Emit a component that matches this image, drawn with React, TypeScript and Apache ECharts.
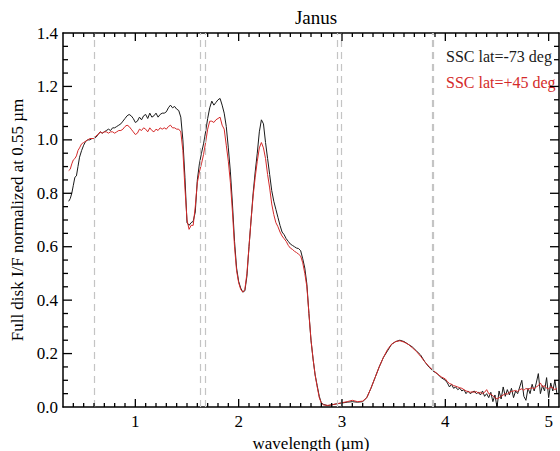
import React, { useEffect, useRef } from "react";
import * as echarts from "echarts";

const FONT = "Liberation Serif";

const seriesNames = ["SSC lat=-73 deg", "SSC lat=+45 deg"];
const seriesColors = ["#1a1a1a", "#d42a2a"];

const xTickLabels = ["1", "2", "3", "4", "5"];
const xMajorTicks = [1, 2, 3, 4, 5];
const yMajorTicks = [0.2, 0.4, 0.6, 0.8, 1.0, 1.2];
const markerWavelengths = [0.6, 1.63, 1.68, 2.95, 2.99, 3.87, 3.885];

// [wavelength (µm), normalized I/F]
const blackSpectrum: number[][] = [
  [0.355, 0.77], [0.37, 0.78], [0.385, 0.8], [0.4, 0.83], [0.415, 0.86], [0.43, 0.865], [0.445, 0.9], [0.46, 0.935],
  [0.48, 0.96], [0.5, 0.98], [0.52, 0.995], [0.54, 1.0], [0.56, 1.0], [0.58, 1.005], [0.6, 1.005], [0.62, 1.01],
  [0.64, 1.02], [0.66, 1.03], [0.68, 1.025], [0.7, 1.03], [0.72, 1.035], [0.74, 1.04], [0.76, 1.035], [0.78, 1.045],
  [0.8, 1.045], [0.82, 1.05], [0.84, 1.055], [0.86, 1.06], [0.88, 1.07], [0.9, 1.08], [0.92, 1.09], [0.94, 1.095],
  [0.96, 1.09], [0.98, 1.08], [1.0, 1.065], [1.02, 1.07], [1.04, 1.085], [1.06, 1.075], [1.08, 1.09], [1.1, 1.095],
  [1.12, 1.08], [1.14, 1.1], [1.16, 1.085], [1.18, 1.09], [1.2, 1.1], [1.22, 1.085], [1.24, 1.095], [1.26, 1.1],
  [1.28, 1.1], [1.3, 1.105], [1.32, 1.12], [1.34, 1.13], [1.36, 1.12], [1.38, 1.125], [1.4, 1.115], [1.42, 1.11],
  [1.44, 1.085], [1.46, 1.0], [1.48, 0.86], [1.5, 0.69], [1.52, 0.68], [1.54, 0.69], [1.56, 0.695], [1.58, 0.73],
  [1.6, 0.85], [1.62, 0.91], [1.64, 0.95], [1.66, 0.985], [1.68, 1.03], [1.7, 1.08], [1.72, 1.12], [1.74, 1.145],
  [1.76, 1.13], [1.78, 1.14], [1.8, 1.15], [1.82, 1.155], [1.84, 1.13], [1.86, 1.1], [1.88, 1.05], [1.9, 0.97],
  [1.92, 0.88], [1.94, 0.76], [1.96, 0.62], [1.98, 0.52], [2.0, 0.47], [2.02, 0.445], [2.04, 0.43], [2.06, 0.435],
  [2.08, 0.49], [2.1, 0.6], [2.12, 0.7], [2.14, 0.8], [2.16, 0.88], [2.18, 0.95], [2.2, 1.03], [2.22, 1.075],
  [2.24, 1.06], [2.26, 0.99], [2.28, 0.93], [2.3, 0.87], [2.32, 0.81], [2.34, 0.77], [2.36, 0.74], [2.38, 0.71],
  [2.4, 0.68], [2.42, 0.655], [2.44, 0.645], [2.46, 0.63], [2.48, 0.62], [2.5, 0.61], [2.52, 0.605], [2.54, 0.6],
  [2.56, 0.595], [2.58, 0.593], [2.6, 0.585], [2.62, 0.555], [2.64, 0.52], [2.66, 0.46], [2.68, 0.35], [2.7, 0.25],
  [2.72, 0.18], [2.74, 0.12], [2.76, 0.08], [2.78, 0.04], [2.8, 0.015], [2.82, 0.01],
  [2.86, 0.005], [2.9, 0.008], [2.95, 0.012], [3.0, 0.015], [3.05, 0.018], [3.1, 0.02], [3.15, 0.018], [3.2, 0.02],
  [3.24, 0.035], [3.28, 0.07], [3.32, 0.11], [3.36, 0.15], [3.4, 0.185], [3.44, 0.21], [3.48, 0.235], [3.52, 0.245],
  [3.56, 0.25], [3.6, 0.245], [3.64, 0.235], [3.68, 0.225], [3.72, 0.21], [3.76, 0.195], [3.8, 0.17], [3.84, 0.15],
  [3.88, 0.135], [3.92, 0.125], [3.96, 0.11], [4.0, 0.1],
  [4.02, 0.09], [4.04, 0.075], [4.06, 0.085], [4.08, 0.07], [4.1, 0.075], [4.12, 0.065], [4.14, 0.07], [4.16, 0.06],
  [4.18, 0.065], [4.2, 0.05], [4.22, 0.06], [4.24, 0.05], [4.26, 0.055], [4.28, 0.06], [4.3, 0.05], [4.32, 0.055],
  [4.34, 0.045], [4.36, 0.06], [4.38, 0.04], [4.4, 0.05], [4.42, 0.035], [4.44, 0.055], [4.46, 0.02], [4.48, 0.045],
  [4.5, 0.0], [4.52, 0.06], [4.54, 0.03], [4.56, 0.075], [4.58, 0.04], [4.6, 0.065], [4.62, 0.045], [4.64, 0.07],
  [4.66, 0.035], [4.68, 0.06], [4.7, 0.05], [4.72, 0.075], [4.74, 0.1], [4.76, 0.04], [4.78, 0.025], [4.8, 0.07],
  [4.82, 0.05], [4.84, 0.085], [4.86, 0.06], [4.88, 0.09], [4.9, 0.125], [4.92, 0.05], [4.94, 0.08], [4.96, 0.06],
  [4.98, 0.11], [5.0, 0.035], [5.02, 0.09], [5.04, 0.06], [5.06, 0.1], [5.08, 0.05],
];

const redSpectrum: number[][] = [
  [0.355, 0.885], [0.37, 0.89], [0.385, 0.91], [0.4, 0.925], [0.415, 0.93], [0.43, 0.94], [0.445, 0.96], [0.46, 0.97],
  [0.48, 0.985], [0.5, 0.99], [0.52, 0.995], [0.54, 1.0], [0.56, 1.005], [0.58, 1.005], [0.6, 1.005], [0.62, 1.015],
  [0.64, 1.02], [0.66, 1.03], [0.68, 1.025], [0.7, 1.03], [0.72, 1.03], [0.74, 1.025], [0.76, 1.03], [0.78, 1.03],
  [0.8, 1.025], [0.82, 1.03], [0.84, 1.035], [0.86, 1.035], [0.88, 1.04], [0.9, 1.05], [0.92, 1.055], [0.94, 1.05],
  [0.96, 1.04], [0.98, 1.03], [1.0, 1.02], [1.02, 1.025], [1.04, 1.04], [1.06, 1.035], [1.08, 1.045], [1.1, 1.04],
  [1.12, 1.03], [1.14, 1.045], [1.16, 1.035], [1.18, 1.03], [1.2, 1.04], [1.22, 1.035], [1.24, 1.045], [1.26, 1.04],
  [1.28, 1.045], [1.3, 1.04], [1.32, 1.05], [1.34, 1.055], [1.36, 1.045], [1.38, 1.045], [1.4, 1.04], [1.42, 1.04],
  [1.44, 1.03], [1.46, 0.96], [1.48, 0.82], [1.5, 0.7], [1.52, 0.665], [1.54, 0.68], [1.56, 0.68], [1.58, 0.75],
  [1.6, 0.84], [1.62, 0.88], [1.64, 0.91], [1.66, 0.945], [1.68, 0.99], [1.7, 1.04], [1.72, 1.07], [1.74, 1.07],
  [1.76, 1.065], [1.78, 1.075], [1.8, 1.08], [1.82, 1.085], [1.84, 1.055], [1.86, 1.04], [1.88, 0.98], [1.9, 0.92],
  [1.92, 0.84], [1.94, 0.73], [1.96, 0.6], [1.98, 0.51], [2.0, 0.465], [2.02, 0.44], [2.04, 0.43], [2.06, 0.44],
  [2.08, 0.5], [2.1, 0.6], [2.12, 0.7], [2.14, 0.79], [2.16, 0.86], [2.18, 0.92], [2.2, 0.97], [2.22, 0.99],
  [2.24, 0.97], [2.26, 0.93], [2.28, 0.87], [2.3, 0.82], [2.32, 0.76], [2.34, 0.72], [2.36, 0.69], [2.38, 0.675],
  [2.4, 0.655], [2.42, 0.64], [2.44, 0.63], [2.46, 0.62], [2.48, 0.605], [2.5, 0.595], [2.52, 0.59], [2.54, 0.583],
  [2.56, 0.578], [2.58, 0.572], [2.6, 0.565], [2.62, 0.54], [2.64, 0.5], [2.66, 0.45], [2.68, 0.35], [2.7, 0.25],
  [2.72, 0.18], [2.74, 0.12], [2.76, 0.075], [2.78, 0.035], [2.8, 0.015], [2.82, 0.008],
  [2.86, 0.006], [2.9, 0.008], [2.95, 0.012], [3.0, 0.016], [3.05, 0.02], [3.1, 0.025], [3.15, 0.02], [3.2, 0.022],
  [3.24, 0.035], [3.28, 0.07], [3.32, 0.11], [3.36, 0.15], [3.4, 0.185], [3.44, 0.215], [3.48, 0.235], [3.52, 0.245],
  [3.56, 0.248], [3.6, 0.243], [3.64, 0.235], [3.68, 0.222], [3.72, 0.208], [3.76, 0.19], [3.8, 0.17], [3.84, 0.152],
  [3.88, 0.138], [3.92, 0.125], [3.96, 0.113], [4.0, 0.105],
  [4.02, 0.095], [4.04, 0.088], [4.06, 0.085], [4.08, 0.08], [4.1, 0.078], [4.12, 0.075], [4.14, 0.072], [4.16, 0.07],
  [4.18, 0.065], [4.2, 0.06], [4.22, 0.058], [4.24, 0.055], [4.26, 0.057], [4.28, 0.055], [4.3, 0.058], [4.32, 0.052],
  [4.34, 0.055], [4.36, 0.05], [4.38, 0.055], [4.4, 0.065], [4.42, 0.05], [4.44, 0.048], [4.46, 0.042], [4.48, 0.035],
  [4.5, 0.03], [4.52, 0.035], [4.54, 0.04], [4.56, 0.045], [4.58, 0.05], [4.6, 0.048], [4.62, 0.055], [4.64, 0.058],
  [4.66, 0.06], [4.68, 0.062], [4.7, 0.058], [4.72, 0.065], [4.74, 0.068], [4.76, 0.062], [4.78, 0.07], [4.8, 0.065],
  [4.82, 0.07], [4.84, 0.072], [4.86, 0.068], [4.88, 0.075], [4.9, 0.08], [4.92, 0.09], [4.94, 0.075], [4.96, 0.08],
  [4.98, 0.07], [5.0, 0.068], [5.02, 0.075], [5.04, 0.072], [5.06, 0.065], [5.08, 0.07],
];

const X_MIN = 0.3;
const X_MAX = 5.1;
const Y_MIN = 0;
const Y_MAX = 1.4;

// minor ticks every 0.1 µm on x and 0.05 on y (between the major ones)
const xMinorTicks: number[] = [];
for (let i = 4; i <= 50; i++) if (i % 10 !== 0) xMinorTicks.push(i / 10);
const yMinorTicks: number[] = [];
for (let i = 1; i < 28; i++) if (i % 4 !== 0) yMinorTicks.push(i / 20);

const GRID = { left: 63, right: 1, top: 33, bottom: 44 };
const TICK_W = 1.3;

export default function App() {
  const ref = useRef<HTMLDivElement>(null);

  useEffect(() => {
    if (!ref.current) return;
    const chart = echarts.init(ref.current, undefined, { renderer: "svg" });
    const axisLineStyle = { color: "#000", width: 1.5 };

    // inward tick marks, placed as thin rect symbols at the axis values
    const tickData: any[] = [];
    const addX = (v: number, len: number) => {
      tickData.push({ value: [v, Y_MIN], symbolSize: [TICK_W, len], symbolOffset: [0, -len / 2] });
      tickData.push({ value: [v, Y_MAX], symbolSize: [TICK_W, len], symbolOffset: [0, len / 2] });
    };
    const addY = (v: number, len: number) => {
      tickData.push({ value: [X_MIN, v], symbolSize: [len, TICK_W], symbolOffset: [len / 2, 0] });
      tickData.push({ value: [X_MAX, v], symbolSize: [len, TICK_W], symbolOffset: [-len / 2, 0] });
    };
    xMajorTicks.forEach((v) => addX(v, 8));
    xMinorTicks.forEach((v) => addX(v, 4));
    yMajorTicks.forEach((v) => addY(v, 9));
    yMinorTicks.forEach((v) => addY(v, 5));

    const xAx = (position: string, withLabels: boolean) => ({
      type: "value",
      min: X_MIN,
      max: X_MAX,
      position,
      splitLine: { show: false },
      axisLine: { show: true, onZero: false, lineStyle: { ...axisLineStyle } },
      axisTick: { show: false },
      axisLabel: withLabels
        ? {
            show: true,
            margin: 6,
            fontFamily: FONT,
            fontSize: 17,
            color: "#000",
            showMinLabel: false,
            showMaxLabel: false,
            formatter: (v: number) => {
              const s = String(Math.round(v));
              return Math.abs(v - Math.round(v)) < 1e-6 && xTickLabels.includes(s) ? s : "";
            },
          }
        : { show: false },
    });

    const yAx = (position: string, withLabels: boolean) => ({
      type: "value",
      min: Y_MIN,
      max: Y_MAX,
      interval: 0.2,
      position,
      splitLine: { show: false },
      axisLine: { show: true, onZero: false, lineStyle: { ...axisLineStyle } },
      axisTick: { show: false },
      minorTick: { show: false },
      minorSplitLine: { show: false },
      axisLabel: withLabels
        ? { margin: 5, fontFamily: FONT, fontSize: 17, color: "#000", formatter: (v: number) => v.toFixed(1) }
        : { show: false },
    });

    const option: any = {
      animation: false,
      backgroundColor: "#fff",
      title: {
        text: "Janus",
        left: 311,
        top: 3,
        textAlign: "center",
        textStyle: { fontFamily: FONT, fontSize: 19, fontWeight: "normal", color: "#000" },
      },
      legend: {
        orient: "vertical",
        left: 436,
        top: 43,
        icon: "none",
        itemWidth: 0,
        itemHeight: 14,
        itemGap: 10,
        selectedMode: false,
        textStyle: { fontFamily: FONT, fontSize: 16 },
        data: seriesNames.map((n, i) => ({ name: n, textStyle: { color: seriesColors[i] } })),
      },
      grid: { ...GRID, containLabel: false, outerBoundsMode: "none" },
      xAxis: [
        {
          ...xAx("bottom", true),
          name: "wavelength (µm)",
          nameLocation: "middle",
          nameGap: 19,
          nameTextStyle: { fontFamily: FONT, fontSize: 17, color: "#000" },
        },
        xAx("top", false),
      ],
      yAxis: [
        {
          ...yAx("left", true),
          name: "Full disk I/F normalized at 0.55 µm",
          nameLocation: "middle",
          nameGap: 36,
          nameTextStyle: { fontFamily: FONT, fontSize: 17, color: "#000" },
        },
        yAx("right", false),
      ],
      series: [
        {
          name: seriesNames[0],
          type: "line",
          xAxisIndex: 0,
          yAxisIndex: 0,
          data: blackSpectrum,
          showSymbol: false,
          symbol: "none",
          lineStyle: { color: seriesColors[0], width: 1 },
          itemStyle: { color: seriesColors[0] },
          markLine: {
            silent: true,
            symbol: "none",
            label: { show: false },
            lineStyle: { color: "#c4c4c4", width: 1.2, type: [7, 5] },
            data: markerWavelengths.map((w) => ({ xAxis: w })),
          },
          z: 2,
        },
        {
          name: seriesNames[1],
          type: "line",
          xAxisIndex: 0,
          yAxisIndex: 0,
          data: redSpectrum,
          showSymbol: false,
          symbol: "none",
          lineStyle: { color: seriesColors[1], width: 1 },
          itemStyle: { color: seriesColors[1] },
          z: 3,
        },
        {
          name: "axis ticks",
          type: "scatter",
          xAxisIndex: 0,
          yAxisIndex: 0,
          data: tickData,
          symbol: "rect",
          clip: false,
          silent: true,
          itemStyle: { color: "#000", opacity: 1 },
          emphasis: { disabled: true },
          z: 10,
        },
      ],
    };

    chart.setOption(option);
    return () => chart.dispose();
  }, []);

  return <div ref={ref} style={{ width: 560, height: 451, position: "absolute", left: 0, top: 0 }} />;
}
